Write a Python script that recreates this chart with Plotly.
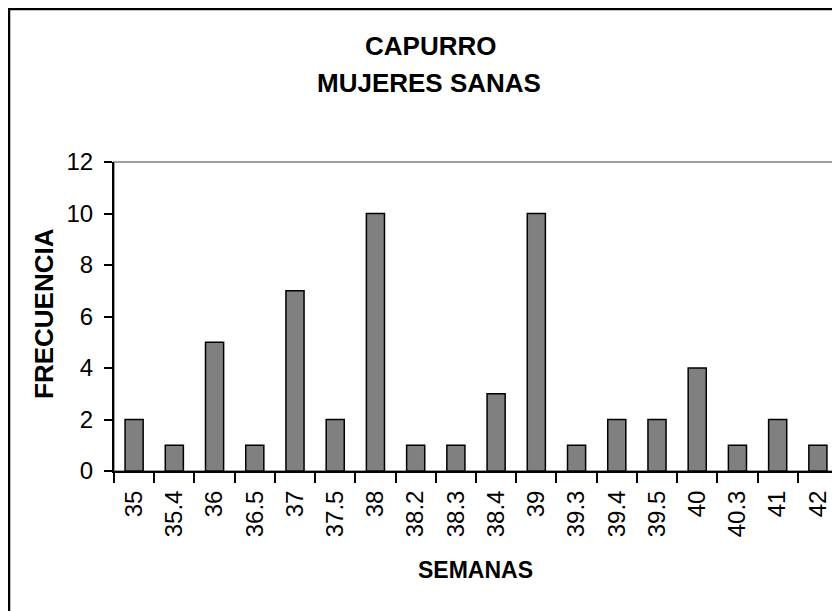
import plotly.graph_objects as go

semanas = ["35", "35.4", "36", "36.5", "37", "37.5", "38", "38.2", "38.3", "38.4",
           "39", "39.3", "39.4", "39.5", "40", "40.3", "41", "42"]
frecuencia = [2, 1, 5, 1, 7, 2, 10, 1, 1, 3, 10, 1, 2, 2, 4, 1, 2, 1]
y_ticks = [0, 2, 4, 6, 8, 10, 12]

title_lines = ["CAPURRO", "MUJERES SANAS"]
x_title = "SEMANAS"
y_title = "FRECUENCIA"

# page is offset by the 8px body margin -> work in figure coordinates
OFF = 8
W, H = 840 - OFF, 611 - OFF
L, R, T, B = 114 - OFF, 838 - OFF, 162 - OFF, 471 - OFF
dw, dh = R - L, B - T

def px(x):
    return (x - OFF - L) / dw

def py(y):
    return (B - (y - OFF)) / dh

font_tick = "Liberation Sans, Arial, sans-serif"
font_bold = "Liberation Sans, Arial, sans-serif"

fig = go.Figure(go.Bar(
    x=semanas, y=frecuencia,
    marker=dict(color="#808080", line=dict(color="#000000", width=1.5)),
    width=0.45,
))

fig.update_layout(
    width=W, height=H,
    margin=dict(l=L, r=W - R, t=T, b=H - B),
    paper_bgcolor="white", plot_bgcolor="white",
    showlegend=False,
    font=dict(family=font_tick, color="black", size=24),
    shapes=[
        dict(type="rect", xref="paper", yref="paper", x0=0, x1=1, y0=0, y1=1,
             line=dict(color="#808080", width=1.5), layer="below"),
        dict(type="rect", xref="paper", yref="paper",
             x0=px(OFF + 1), x1=px(860), y0=py(640), y1=py(OFF + 1),
             line=dict(color="black", width=2.5), layer="below"),
    ],
    annotations=[
        dict(text="<b>%s</b>" % title_lines[0], xref="paper", yref="paper",
             x=px(430), y=py(46), showarrow=False, xanchor="center", yanchor="middle",
             font=dict(family=font_bold, size=26)),
        dict(text="<b>%s</b>" % title_lines[1], xref="paper", yref="paper",
             x=px(429), y=py(83), showarrow=False, xanchor="center", yanchor="middle",
             font=dict(family=font_bold, size=26)),
        dict(text="<b>%s</b>" % x_title, xref="paper", yref="paper",
             x=px(475), y=py(570), showarrow=False, xanchor="center", yanchor="middle",
             font=dict(family=font_bold, size=23)),
        dict(text="<b>%s</b>" % y_title, xref="paper", yref="paper",
             x=px(44), y=py(314), showarrow=False, xanchor="center", yanchor="middle",
             textangle=-90, font=dict(family=font_bold, size=26)),
    ],
)

fig.update_xaxes(
    type="category", showline=True, linecolor="black", linewidth=2,
    ticks="outside", tickson="boundaries", ticklen=10, tickcolor="black", tickwidth=1.5,
    tickangle=-90, tickfont=dict(size=24), ticklabelstandoff=8,
    showgrid=False, zeroline=False, fixedrange=True,
)
fig.update_yaxes(
    range=[0, 12], tickvals=y_ticks, showline=True, linecolor="black", linewidth=2,
    ticks="outside", ticklen=8, tickcolor="black", tickwidth=1.5,
    tickfont=dict(size=24), ticklabelstandoff=6,
    showgrid=False, zeroline=False, fixedrange=True,
)

fig.write_html("out.html")
